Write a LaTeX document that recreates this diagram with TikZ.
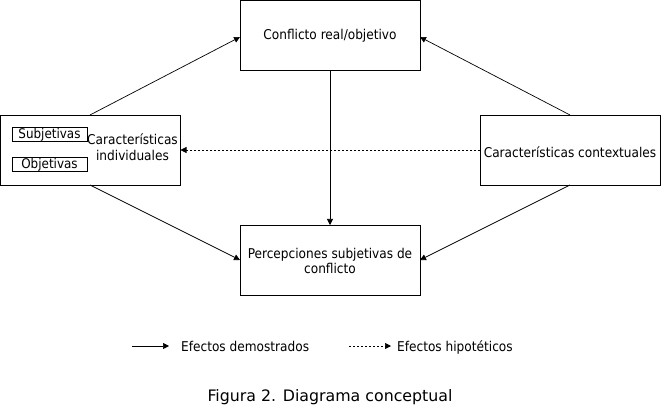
\documentclass[tikz,border=0pt]{standalone}
\usepackage{fontspec}
\setmainfont{DejaVu Sans}
\newfontfamily\condfont{DejaVu Sans Condensed}
\usetikzlibrary{arrows.meta}
\begin{document}
\begin{tikzpicture}[x=1pt,y=-1pt,
  box/.style={draw,line width=0.8pt,inner sep=0pt,minimum width=180pt,minimum height=70pt},
  smallbox/.style={draw,line width=0.6pt,inner sep=0pt,font=\condfont\fontsize{13.3}{15}\selectfont},
  lbl/.style={inner sep=0pt,font=\condfont\fontsize{13.5}{15.5}\selectfont},
  arr/.style={line width=0.7pt,-{Triangle[length=6pt,width=6pt]}},
  darr/.style={arr,dash pattern=on 2pt off 2pt}]
\useasboundingbox (0,0) rectangle (661,406);
% boxes
\node[box,minimum height=69.5pt] (topbox) at (330,35.25) {};
\node[box] (left) at (90.5,150) {};
\node[box] (right) at (570,150) {};
\node[box] (bot) at (330,260) {};
\node[lbl] (toptxt) at (330,36) {Conflicto real/objetivo};
\node[lbl,align=center] (lefttxt) at (132.5,147) {Características\\individuales};
\node[lbl] (righttxt) at (570,152) {Características contextuales};
\node[lbl,align=center] (bottxt) at (330,261) {Percepciones subjetivas de\\conflicto};
\node[smallbox,minimum width=75pt,minimum height=14.5pt] (subj) at (49.5,134.5) {Subjetivas};
\node[smallbox,minimum width=75pt,minimum height=14.5pt] (obj) at (49.5,164.5) {Objetivas};
% connector end points
\coordinate (lN) at (90,115);
\coordinate (lS) at (90,185);
\coordinate (rN) at (570,115);
\coordinate (rS) at (570,185);
\coordinate (tW) at (240,37);
\coordinate (tE) at (420,37);
\coordinate (tS) at (330,70);
\coordinate (bN) at (330,225);
\coordinate (bW) at (240,260);
\coordinate (bE) at (420,260);
\coordinate (rW) at (480,150);
\coordinate (lE) at (180.5,150);
\draw[arr] (lN) -- (tW);
\draw[arr] (rN) -- (tE);
\draw[arr] (tS) -- (bN);
\draw[arr] (lS) -- (bW);
\draw[arr] (rS) -- (bE);
\draw[darr] (rW) -- (lE);
% legend
\coordinate (l1a) at (132,346);
\coordinate (l1b) at (169,346);
\coordinate (l2a) at (349,346);
\coordinate (l2b) at (391,346);
\draw[arr] (l1a) -- (l1b);
\draw[darr] (l2a) -- (l2b);
\node[lbl,anchor=base west] (leg1) at (181,351) {Efectos demostrados};
\node[lbl,anchor=base west] (leg2) at (397,351) {Efectos hipotéticos};
\node[inner sep=0pt,anchor=base,font=\fontsize{15.8}{18}\selectfont] (cap) at (330,401) {Figura 2. Diagrama conceptual};
\end{tikzpicture}
\end{document}
